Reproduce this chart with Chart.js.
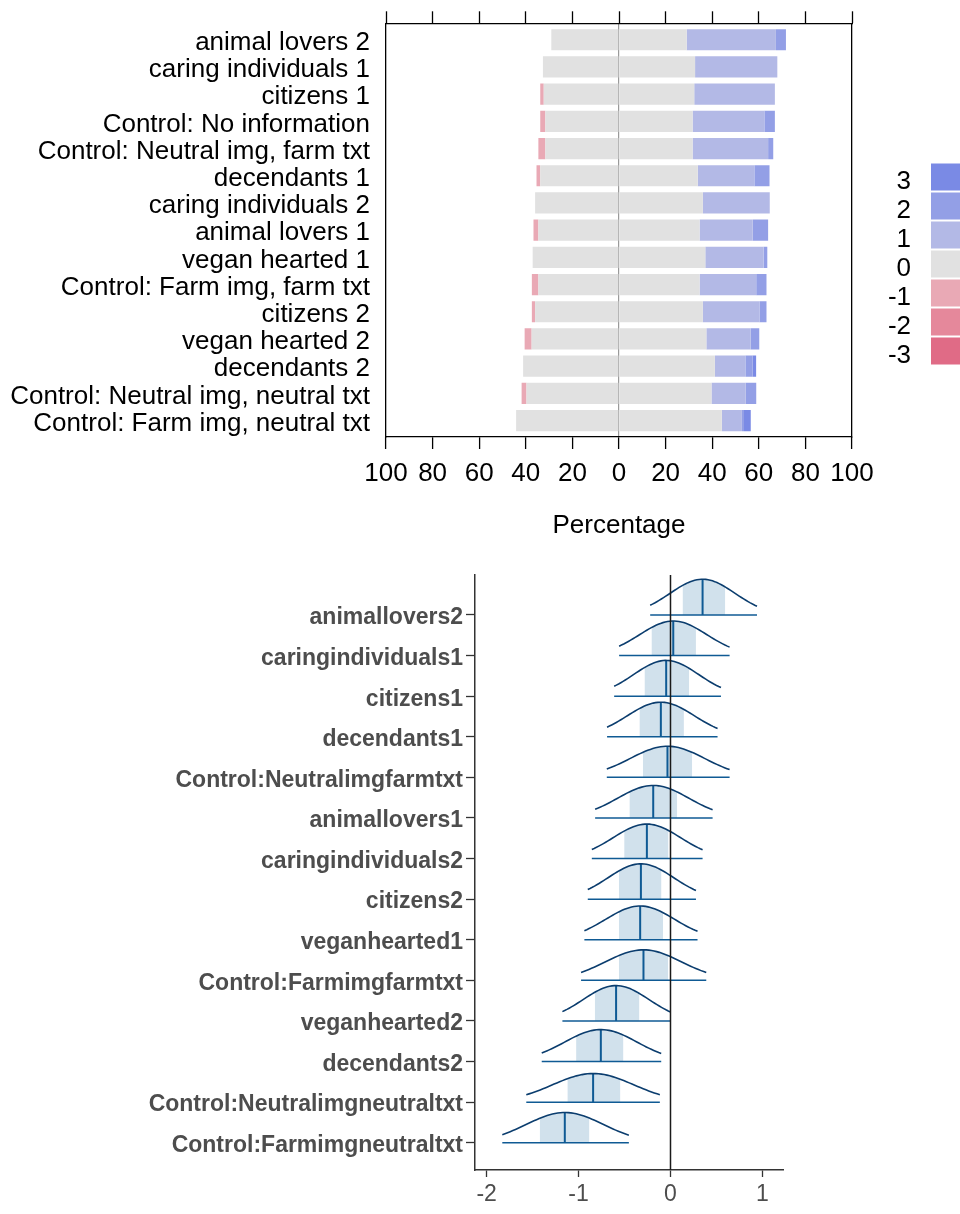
<!DOCTYPE html>
<html>
<head>
<meta charset="utf-8">
<script src="https://cdn.jsdelivr.net/npm/chart.js@4.4.1/dist/chart.umd.min.js"></script>
<style>
  html, body { margin: 0; padding: 0; background: #fff; }
  #top { position: absolute; left: 0; top: 0; width: 960px; height: 545px; }
  #bottom { position: absolute; left: 0; top: 545px; width: 960px; height: 669px; }
</style>
</head>
<body>
<div id="top"><canvas id="likertChart" width="960" height="545"></canvas></div>
<div id="bottom"><canvas id="areasChart" width="960" height="669"></canvas></div>
<script>
// ---- top panel: likert percentages (rows listed top to bottom) ----
const categories = [
  'animal lovers 2', 'caring individuals 1', 'citizens 1', 'Control: No information',
  'Control: Neutral img, farm txt', 'decendants 1', 'caring individuals 2', 'animal lovers 1',
  'vegan hearted 1', 'Control: Farm img, farm txt', 'citizens 2', 'vegan hearted 2',
  'decendants 2', 'Control: Neutral img, neutral txt', 'Control: Farm img, neutral txt'
];
const neg3    = [0, 0, 0, 0, 0, 0, 0, 0, 0, 0, 0, 0, 0, 0, 0];
const neg2    = [0, 0, 0, 0, 0, 0, 0, 0, 0, 0, 0, 0, 0, 0, 0];
const neg1    = [0, 0, 1.5, 2.2, 3.0, 1.6, 0, 2.1, 0, 2.8, 1.4, 3.0, 0, 2.1, 0];
const neutral = [58.1, 65.3, 64.6, 63.2, 63.2, 67.6, 72.0, 69.2, 74.1, 69.2, 72.0, 75.0, 82.3, 79.4, 88.3];
const pos1    = [38.3, 35.3, 34.6, 30.8, 32.4, 24.3, 28.7, 22.8, 25.0, 24.3, 24.3, 19.0, 13.1, 14.7, 8.6];
const pos2    = [4.3, 0, 0, 4.5, 2.2, 6.5, 0, 6.6, 1.6, 4.4, 3.0, 3.7, 3.1, 4.5, 0.9];
const pos3    = [0, 0, 0, 0, 0, 0, 0, 0, 0, 0, 0, 0, 1.5, 0, 2.9];
const levelLabels = ['3', '2', '1', '0', '-1', '-2', '-3'];
const levelColors = ['#7a8ae5', '#939fe6', '#b3b9e6', '#e1e1e1', '#e9a9b5', '#e5889b', '#e06b86'];
const pctTicks = [-100, -80, -60, -40, -20, 0, 20, 40, 60, 80, 100];

// ---- bottom panel: posterior summaries (rows listed top to bottom) ----
const params = [
  'animallovers2', 'caringindividuals1', 'citizens1', 'decendants1', 'Control:Neutralimgfarmtxt',
  'animallovers1', 'caringindividuals2', 'citizens2', 'veganhearted1', 'Control:Farmimgfarmtxt',
  'veganhearted2', 'decendants2', 'Control:Neutralimgneutraltxt', 'Control:Farmimgneutraltxt'
];
const medians   = [0.349, 0.030, -0.047, -0.105, -0.033, -0.188, -0.257, -0.322, -0.330, -0.294, -0.592, -0.758, -0.842, -1.150];
const innerLow  = [0.131, -0.207, -0.283, -0.338, -0.301, -0.447, -0.504, -0.562, -0.562, -0.562, -0.824, -1.027, -1.122, -1.423];
const innerHigh = [0.596, 0.277, 0.204, 0.146, 0.236, 0.073, -0.022, -0.098, -0.080, -0.025, -0.338, -0.512, -0.545, -0.882];
const outerLow  = [-0.221, -0.559, -0.613, -0.690, -0.693, -0.820, -0.856, -0.900, -0.937, -0.973, -1.176, -1.401, -1.569, -1.830];
const outerHigh = [0.941, 0.643, 0.549, 0.512, 0.643, 0.458, 0.349, 0.277, 0.294, 0.389, 0.000, -0.101, -0.116, -0.453];
const effectTicks = [-2, -1, 0, 1];

Chart.defaults.font.family = "'Liberation Sans', Arial, sans-serif";
Chart.defaults.animation = false;

// ================= top: diverging stacked bars =================
const blk = '#000';
// rows sit at 1..15 on a linear index axis so the frame can keep a small gap
function bars(label, values, sign, color) {
  return {
    label: label,
    data: values.map((v, i) => ({ x: sign * v, y: i + 1 })),
    backgroundColor: color,
    borderWidth: 0,
    barPercentage: 0.78,
    categoryPercentage: 1
  };
}

const legendRight = {
  id: 'legendRight',
  afterDraw(chart) {
    const ctx = chart.ctx;
    ctx.save();
    ctx.font = "26px 'Liberation Sans', Arial, sans-serif";
    ctx.textAlign = 'right';
    ctx.textBaseline = 'middle';
    levelLabels.forEach((lab, i) => {
      const top = 163.5 + i * 29;
      ctx.fillStyle = levelColors[i];
      ctx.fillRect(931, top, 29, 27);
      ctx.fillStyle = blk;
      ctx.fillText(lab, 911, top + 18);
    });
    ctx.restore();
  }
};

new Chart(document.getElementById('likertChart'), {
  type: 'bar',
  data: {
    datasets: [
      bars('0', neutral.map(v => v / 2), -1, levelColors[3]),
      bars('-1', neg1, -1, levelColors[4]),
      bars('-2', neg2, -1, levelColors[5]),
      bars('-3', neg3, -1, levelColors[6]),
      bars('0', neutral.map(v => v / 2), 1, levelColors[3]),
      bars('1', pos1, 1, levelColors[2]),
      bars('2', pos2, 1, levelColors[1]),
      bars('3', pos3, 1, levelColors[0])
    ]
  },
  options: {
    responsive: false,
    devicePixelRatio: 1,
    indexAxis: 'y',
    layout: { padding: { top: 11, right: 108, left: 0, bottom: 0 } },
    plugins: { legend: { display: false }, tooltip: { enabled: false } },
    scales: {
      x: {
        type: 'linear', stacked: true, position: 'bottom', min: -100, max: 100,
        afterBuildTicks: s => { s.ticks = pctTicks.map(v => ({ value: v })); },
        afterFit: s => { s.height = 108; },
        ticks: { callback: v => Math.abs(v), color: blk, font: { size: 26 }, padding: 9, maxRotation: 0, autoSkip: false },
        grid: {
          color: c => (c.tick && c.tick.value === 0 ? '#9a9a9a' : 'rgba(0,0,0,0)'),
          lineWidth: 1.2, tickColor: blk, tickLength: 12, tickWidth: 1.3
        },
        border: { display: true, color: blk, width: 1.3 },
        title: { display: true, text: 'Percentage', color: blk, font: { size: 26 }, padding: { top: 0, bottom: 4 } }
      },
      x2: {
        type: 'linear', position: 'top', min: -100, max: 100,
        afterBuildTicks: s => { s.ticks = pctTicks.map(v => ({ value: v })); },
        afterFit: s => { s.height = 12.3; },
        ticks: { display: false },
        grid: { drawOnChartArea: false, tickColor: blk, tickLength: 12, tickWidth: 1.3 },
        border: { display: true, color: blk, width: 1.3 }
      },
      y: {
        type: 'linear', stacked: true, reverse: true, offset: false, min: 0.395, max: 15.605,
        afterBuildTicks: s => { s.ticks = categories.map((c, i) => ({ value: i + 1 })); },
        afterFit: s => { s.width = 386; s.paddingTop = 0; s.paddingBottom = 0; },
        ticks: { callback: v => categories[v - 1], color: blk, font: { size: 26 }, padding: 16, labelOffset: 3, autoSkip: false },
        grid: { display: false, drawTicks: false, offset: false },
        border: { display: true, color: blk, width: 1.3 }
      },
      y2: {
        type: 'linear', position: 'right', min: 0, max: 1,
        afterFit: s => { s.width = 0; s.paddingTop = 0; s.paddingBottom = 0; },
        ticks: { display: false },
        grid: { display: false, drawTicks: false },
        border: { display: true, color: blk, width: 1.3 }
      }
    }
  },
  plugins: [legendRight]
});

// ================= bottom: posterior areas =================
const heightScale = 0.78;   // row units per unit of density
const nRows = params.length;
function rowY(i) { return nRows - i; }
function dens(x, i) {
  const sd = (outerHigh[i] - outerLow[i]) / 3.29;
  const z = (x - medians[i]) / sd;
  return Math.exp(-0.5 * z * z) / (sd * Math.sqrt(2 * Math.PI));
}
function curve(i, from, to) {
  const pts = [];
  const n = 48;
  for (let k = 0; k <= n; k++) {
    const x = from + (to - from) * k / n;
    pts.push({ x: x, y: rowY(i) + heightScale * dens(x, i) });
  }
  return pts;
}

const areaSets = [];
params.forEach((p, i) => {
  areaSets.push({
    data: curve(i, innerLow[i], innerHigh[i]),
    borderWidth: 0, pointRadius: 0, backgroundColor: '#d1e1ec',
    fill: { value: rowY(i) }, order: 4
  });
  areaSets.push({
    data: [{ x: outerLow[i], y: rowY(i) }, { x: outerHigh[i], y: rowY(i) }],
    borderColor: '#0f5a94', borderWidth: 1.5, pointRadius: 0, fill: false, order: 3
  });
  areaSets.push({
    data: [{ x: medians[i], y: rowY(i) }, { x: medians[i], y: rowY(i) + heightScale * dens(medians[i], i) }],
    borderColor: '#0f5a94', borderWidth: 2, pointRadius: 0, fill: false, order: 2
  });
  areaSets.push({
    data: curve(i, outerLow[i], outerHigh[i]),
    borderColor: '#0b3d6e', borderWidth: 1.6, pointRadius: 0, fill: false, order: 1
  });
});

const zeroLine = {
  id: 'zeroLine',
  afterDatasetsDraw(chart) {
    const { ctx, chartArea, scales } = chart;
    const x = scales.x.getPixelForValue(0);
    ctx.save();
    ctx.strokeStyle = '#1a1a1a';
    ctx.lineWidth = 1.5;
    ctx.beginPath();
    ctx.moveTo(x, chartArea.top);
    ctx.lineTo(x, chartArea.bottom);
    ctx.stroke();
    ctx.restore();
  }
};

const gry = '#4d4d4d';
new Chart(document.getElementById('areasChart'), {
  type: 'line',
  data: { datasets: areaSets },
  options: {
    responsive: false,
    devicePixelRatio: 1,
    layout: { padding: { top: 30, right: 177, left: 0, bottom: 0 } },
    plugins: { legend: { display: false }, tooltip: { enabled: false } },
    elements: { line: { tension: 0 } },
    scales: {
      x: {
        type: 'linear', min: -2.127, max: 1.224,
        afterBuildTicks: s => { s.ticks = effectTicks.map(v => ({ value: v })); },
        afterFit: s => { s.height = 44; },
        ticks: { color: gry, font: { size: 23 }, padding: 4, maxRotation: 0 },
        grid: { drawOnChartArea: false, tickColor: '#333', tickLength: 7, tickWidth: 1.3 },
        border: { display: true, color: '#333', width: 1.5 }
      },
      y: {
        type: 'linear', min: 0.328, max: 14.985,
        afterBuildTicks: s => { s.ticks = params.map((p, i) => ({ value: rowY(i) })); },
        afterFit: s => { s.width = 475; },
        ticks: {
          callback: v => params[nRows - v], color: gry,
          font: { size: 23, weight: 'bold' }, padding: 3, labelOffset: 3
        },
        grid: { drawOnChartArea: false, tickColor: '#333', tickLength: 9, tickWidth: 1.3 },
        border: { display: true, color: '#333', width: 1.5 }
      }
    }
  },
  plugins: [zeroLine]
});
</script>
</body>
</html>
